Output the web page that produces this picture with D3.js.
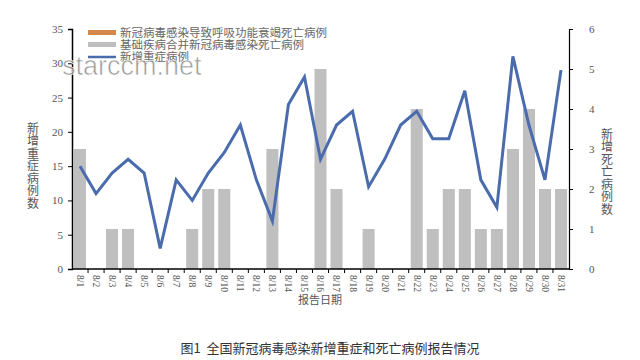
<!DOCTYPE html>
<html><head><meta charset="utf-8">
<script src="https://cdn.jsdelivr.net/npm/d3@7"></script>
<style>body{margin:0;background:#fff}svg{display:block}</style>
</head><body>
<svg id="c" width="640" height="360"></svg>
<script>
const dates = ["8/1","8/2","8/3","8/4","8/5","8/6","8/7","8/8","8/9","8/10","8/11","8/12","8/13","8/14","8/15","8/16","8/17","8/18","8/19","8/20","8/21","8/22","8/23","8/24","8/25","8/26","8/27","8/28","8/29","8/30","8/31"];
const respDeaths = [0,0,0,0,0,0,0,0,0,0,0,0,0,0,0,0,0,0,0,0,0,0,0,0,0,0,0,0,0,0,0];
const comorbDeaths = [3,0,1,1,0,0,0,1,2,2,0,0,3,0,0,5,2,0,1,0,0,4,1,2,2,1,1,3,4,2,2];
const severeCases = [15,11,14,16,14,3,13,10,14,17,21,13,7,24,28,16,21,23,12,16,21,23,19,19,26,13,9,31,21,13,29];
const leftTicks = [0,5,10,15,20,25,30,35];
const rightTicks = [0,1,2,3,4,5,6];
const legendLabels = ["新冠病毒感染导致呼吸功能衰竭死亡病例","基础疾病合并新冠病毒感染死亡病例","新增重症病例"];
const colors = ["#d4894a","#bfbfbf","#4a6cad"];

const svg = d3.select("#c");
const L = 72, R = 569, T = 29, B = 269;
const x = d3.scaleBand().domain(dates).range([L, R]).paddingInner(0.25).paddingOuter(0.12);
const xb = d3.scaleBand().domain(dates).range([L, R]);
const yL = d3.scaleLinear().domain([0,35]).range([B, T]);
const yR = d3.scaleLinear().domain([0,6]).range([B, T]);
const serif = "'Liberation Serif', 'DejaVu Serif', serif";
const cjk = "'Noto Sans CJK SC', sans-serif";

// bars (stacked: resp + comorbidity)
svg.append("g").selectAll("rect").data(dates).join("rect")
  .attr("x", d => x(d)).attr("width", x.bandwidth())
  .attr("y", (d,i) => yR(comorbDeaths[i] + respDeaths[i]))
  .attr("height", (d,i) => yR(respDeaths[i]) - yR(comorbDeaths[i] + respDeaths[i]))
  .attr("fill", colors[1]);
svg.append("g").selectAll("rect").data(dates).join("rect")
  .attr("x", d => x(d)).attr("width", x.bandwidth())
  .attr("y", (d,i) => yR(respDeaths[i]))
  .attr("height", (d,i) => B - yR(respDeaths[i]))
  .attr("fill", colors[0]);

// line
const line = d3.line().x((d,i) => xb(dates[i]) + xb.bandwidth()/2).y(d => yL(d));
svg.append("path").datum(severeCases).attr("d", line)
  .attr("fill","none").attr("stroke", colors[2]).attr("stroke-width", 3).attr("stroke-linejoin","miter");

// left axis
const gl = svg.append("g").attr("transform", `translate(${L},0)`)
  .call(d3.axisLeft(yL).tickValues(leftTicks).tickSize(4).tickPadding(5));
gl.select(".domain").attr("stroke","#000").attr("stroke-width",1.5);
gl.selectAll(".tick line").attr("stroke","#000");
gl.selectAll("text").attr("font-family", serif).attr("font-size", 11).attr("fill","#555");

// right axis
const gr = svg.append("g").attr("transform", `translate(${R},0)`)
  .call(d3.axisRight(yR).tickValues(rightTicks).tickFormat(d3.format("d")).tickSize(4).tickPadding(16));
gr.select(".domain").attr("stroke","#000").attr("stroke-width",1.2);
gr.selectAll(".tick line").attr("stroke","#000");
gr.selectAll("text").attr("font-family", serif).attr("font-size", 11).attr("fill","#555");

// x axis
const gx = svg.append("g").attr("transform", `translate(0,${B})`)
  .call(d3.axisBottom(x).tickSize(0).tickPadding(0));
gx.select(".domain").remove();
svg.append("line").attr("x1",L).attr("x2",R).attr("y1",B).attr("y2",B).attr("stroke","#000").attr("stroke-width",1.5);
svg.append("g").selectAll("line").data(dates.slice(1)).join("line")
  .attr("x1", d => xb(d)).attr("x2", d => xb(d)).attr("y1", B).attr("y2", B+4).attr("stroke","#000");
gx.selectAll(".tick text")
  .attr("font-family", serif).attr("font-size", 9.5).attr("fill","#555")
  .attr("text-anchor","start").attr("dy","0.32em")
  .attr("transform","translate(0,6) rotate(90)");

// axis titles
svg.append("text").attr("x", 320).attr("y", 304).attr("text-anchor","middle")
  .attr("font-family", cjk).attr("font-size", 11).attr("fill","#555").text("报告日期");
const vt = (txt, cx, y0) => {
  svg.append("text").attr("x", cx).attr("y", y0)
    .style("writing-mode","vertical-rl").style("text-orientation","upright")
    .attr("font-family", cjk).attr("font-size", 12).attr("letter-spacing", 0.5).attr("fill","#555").text(txt);
};
vt("新增重症病例数", 33, 122);
vt("新增死亡病例数", 607, 128);

// legend
const lg = svg.append("g");
legendLabels.forEach((t,i) => {
  const yy = 33 + i*12;
  if (i < 2) lg.append("rect").attr("x", 88).attr("y", yy-3).attr("width", 28).attr("height", 5).attr("fill", colors[i]);
  else lg.append("line").attr("x1", 88).attr("x2", 116).attr("y1", yy).attr("y2", yy).attr("stroke", colors[i]).attr("stroke-width", 2.5);
  lg.append("text").attr("x", 120).attr("y", yy).attr("dy","0.35em")
    .attr("font-family", cjk).attr("font-size", 11.5).attr("fill","#666").text(t);
});

// watermark
svg.append("text").attr("x", 62).attr("y", 75).attr("font-family","'Liberation Sans', Arial, sans-serif")
  .attr("font-size", 27).attr("fill","#8a8a8a").attr("fill-opacity",0.85).attr("stroke","#fff").attr("stroke-width",0.6).text("starccm.net");

// caption
svg.append("text").attr("x", 330).attr("y", 353).attr("text-anchor","middle")
  .attr("font-family", cjk).attr("font-size", 13).attr("fill","#333").attr("xml:space","preserve")
  .text("图1  全国新冠病毒感染新增重症和死亡病例报告情况");
</script>
</body></html>
